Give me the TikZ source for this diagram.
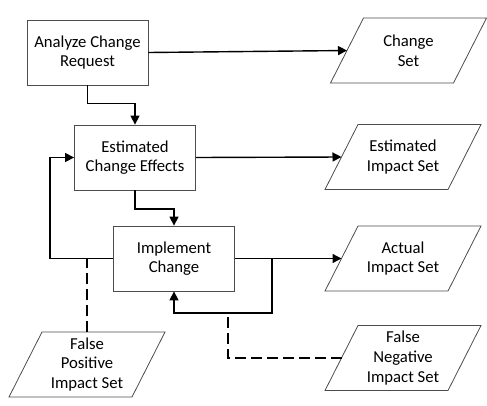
\documentclass[tikz,border=0pt]{standalone}
\usepackage{fontspec}
\setmainfont{Carlito}
\usetikzlibrary{calc,arrows.meta}
\tikzset{
  lbl/.style={align=center, inner sep=0pt, font=\fontsize{16.7}{19.7}\selectfont},
  proc/.style={lbl, draw=black!70, line width=0.8pt, minimum width=121pt, minimum height=65pt, fill=white},
  iobox/.style={draw=black!70, line width=0.8pt},
  conn/.style={line width=1.4pt, black},
  arr/.style={conn, -{Triangle[length=9pt,width=9pt]}},
  dsh/.style={line width=1.3pt, black, dash pattern=on 11pt off 5pt}
}
\newcommand\iodata[4]{%
  \node[lbl] (#1) at (#2,#3) {#4};
  \draw[iobox] ($(#1)+(-45,-32.5)$) -- ($(#1)+(78,-32.5)$) -- ($(#1)+(45,32.5)$) -- ($(#1)+(-78,32.5)$) -- cycle;
  \coordinate (#1-w) at ($(#1)+(-61.5,0)$);
  \coordinate (#1-n) at ($(#1)+(0,-32.5)$);
}
\begin{document}
\begin{tikzpicture}[x=1pt,y=-1pt]
\useasboundingbox (0,0) rectangle (487,405);
% process boxes
\node[proc] (b1) at (87.5,52.5) {Analyze Change\\Request};
\node[proc] (b2) at (135,157.5) {Estimated\\Change Effects};
\node[proc] (b3) at (174,258.5) {Implement\\Change};
% data (parallelograms)
\iodata{cs}{408.5}{50.5}{Change\\Set}
\iodata{eis}{403}{157}{Estimated\\Impact Set}
\iodata{ais}{403}{258.5}{Actual\\Impact Set}
\iodata{fn}{403}{358}{False\\Negative\\Impact Set}
\iodata{fp}{87}{364.5}{False\\Positive\\Impact Set}
% helper coordinates
\coordinate (j) at ($(b3.east)+(37,0)$);
\coordinate (lb) at ($(b3.south)+(0,21.5)$);
% connectors
\draw[arr] (b1.east) -- (cs-w);
\draw[arr] (b1.south) -- ++(0,18) -| (b2.north);
\draw[arr] (b2.east) -- (eis-w);
\draw[arr] (b2.south) -- ++(0,18.5) -| (b3.north);
\draw[arr] (b3.west) -| ($(b2.west)-(24,0)$) -- (b2.west);
\draw[arr] (b3.east) -- (ais-w);
\draw[arr] (j) |- (lb) -- (b3.south);
\draw[dsh] (fp-n) -- (fp-n |- b3.west);
\draw[dsh] (fn-w) -| ($(lb)+(54,0)$);
\end{tikzpicture}
\end{document}
